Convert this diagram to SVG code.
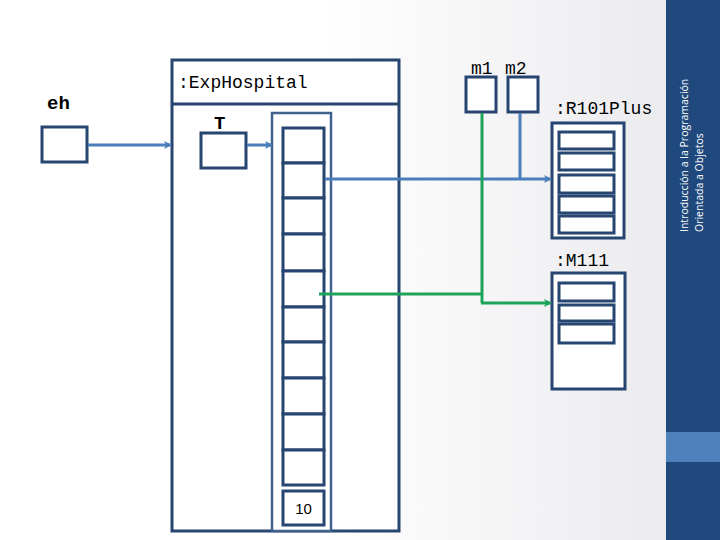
<svg xmlns="http://www.w3.org/2000/svg" width="720" height="540" viewBox="0 0 720 540">
<defs>
<linearGradient id="bg" x1="0" y1="0" x2="1" y2="0">
<stop offset="0" stop-color="#ffffff"/>
<stop offset="0.45" stop-color="#ffffff"/>
<stop offset="1" stop-color="#e8e8ec"/>
</linearGradient>
<marker id="ab" markerWidth="8" markerHeight="8" refX="6" refY="4" orient="auto" markerUnits="userSpaceOnUse" viewBox="0 0 8 8">
<path d="M0,0 L8,4 L0,8 L2,4 Z" fill="#4a7ebb"/>
</marker>
<marker id="ag" markerWidth="8" markerHeight="8" refX="6" refY="4" orient="auto" markerUnits="userSpaceOnUse" viewBox="0 0 8 8">
<path d="M0,0 L8,4 L0,8 L2,4 Z" fill="#1ea35a"/>
</marker>
</defs>
<style>
.box{fill:#ffffff;stroke:#264570;stroke-width:3}
.cell{fill:#ffffff;stroke:#264570;stroke-width:3}
.outer{fill:#ffffff;stroke:#3f628e;stroke-width:2.5}
.mono{font-family:"Liberation Mono","DejaVu Sans Mono",monospace;font-size:18px;fill:#000}
.bold{font-family:"Liberation Mono","DejaVu Sans Mono",monospace;font-size:19px;font-weight:bold;fill:#000}
.blue{fill:none;stroke:#4a7ebb;stroke-width:3}
.green{fill:none;stroke:#1ea35a;stroke-width:3}
.side{font-family:"Open Sans","DejaVu Sans",sans-serif;font-size:10.5px;fill:#ffffff}
</style>
<rect x="0" y="0" width="720" height="540" fill="url(#bg)"/>
<g id="sidebar">
<rect x="666" y="0" width="54" height="540" fill="#1f497d"/>
<rect x="666" y="432" width="54" height="30" fill="#4f81bd"/>
<text class="side" transform="translate(688,232) rotate(-90)">Introducción a la Programación</text>
<text class="side" transform="translate(703,232) rotate(-90)">Orientada a Objetos</text>
</g>
<g id="eh">
<text class="bold" x="47" y="109">eh</text>
<rect class="box" x="42" y="127" width="45" height="35"/>
</g>
<g id="expHospital">
<rect class="box" x="172" y="60" width="227" height="471"/>
<line x1="172" y1="104" x2="399" y2="104" stroke="#264570" stroke-width="3"/>
<text class="mono" x="178" y="88">:ExpHospital</text>
</g>
<g id="T">
<text class="bold" x="214" y="129">T</text>
<rect class="box" x="201" y="133" width="45" height="35"/>
</g>
<g id="array">
<rect class="outer" x="272" y="113" width="59" height="418"/>
<rect class="cell" x="283" y="128" width="41" height="35"/>
<rect class="cell" x="283" y="163" width="41" height="35"/>
<rect class="cell" x="283" y="198" width="41" height="36"/>
<rect class="cell" x="283" y="234" width="41" height="37"/>
<rect class="cell" x="283" y="271" width="41" height="36"/>
<rect class="cell" x="283" y="307" width="41" height="35"/>
<rect class="cell" x="283" y="342" width="41" height="36"/>
<rect class="cell" x="283" y="378" width="41" height="36"/>
<rect class="cell" x="283" y="414" width="41" height="36"/>
<rect class="cell" x="283" y="450" width="41" height="35"/>
<rect class="cell" x="283" y="491" width="41" height="34"/>
<text x="303.5" y="514" text-anchor="middle" font-family="Liberation Sans, Arial, sans-serif" font-size="15" fill="#000">10</text>
</g>
<g id="m1">
<text class="mono" x="471" y="74" font-size="17">m1</text>
<rect class="box" x="466" y="77" width="30" height="35"/>
</g>
<g id="m2">
<text class="mono" x="505" y="74" font-size="17">m2</text>
<rect class="box" x="508" y="77" width="30" height="35"/>
</g>
<g id="R101Plus">
<text class="mono" x="555" y="114">:R101Plus</text>
<rect class="box" x="552" y="123" width="72" height="115"/>
<rect class="cell" x="559" y="132" width="55" height="17"/>
<rect class="cell" x="559" y="153" width="55" height="17"/>
<rect class="cell" x="559" y="175" width="55" height="18"/>
<rect class="cell" x="559" y="196" width="55" height="17"/>
<rect class="cell" x="559" y="216" width="55" height="17"/>
</g>
<g id="M111">
<text class="mono" x="555" y="266">:M111</text>
<rect class="box" x="552" y="273" width="73" height="116"/>
<rect class="cell" x="559" y="283" width="55" height="18"/>
<rect class="cell" x="559" y="305" width="55" height="16"/>
<rect class="cell" x="559" y="324" width="55" height="19"/>
</g>
<g id="connectors">
<line class="blue" x1="88" y1="145" x2="170" y2="145" marker-end="url(#ab)"/>
<line class="blue" x1="247" y1="145" x2="271" y2="145" marker-end="url(#ab)"/>
<line class="blue" x1="325" y1="179" x2="550" y2="179" marker-end="url(#ab)"/>
<line class="blue" x1="520" y1="113" x2="520" y2="179"/>
<line class="green" x1="319" y1="294" x2="482" y2="294"/>
<line class="green" x1="482" y1="113" x2="482" y2="303"/>
<line class="green" x1="481" y1="303" x2="550" y2="303" marker-end="url(#ag)"/>
</g>
</svg>
